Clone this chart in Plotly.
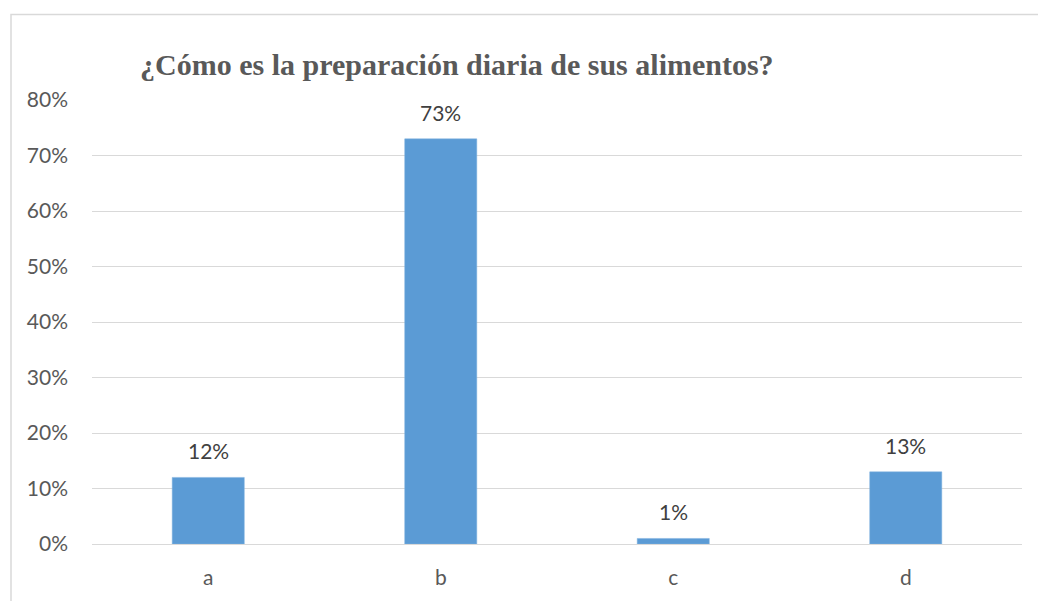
import plotly.graph_objects as go

categories = ["a", "b", "c", "d"]
values = [0.12, 0.73, 0.01, 0.13]
labels = ["12%", "73%", "1%", "13%"]
y_ticks = [0, 0.1, 0.2, 0.3, 0.4, 0.5, 0.6, 0.7, 0.8]
y_tick_text = ["0%", "10%", "20%", "30%", "40%", "50%", "60%", "70%", "80%"]

W, H = 1038, 601
ML, MR, MT, MB = 92, 16, 100, 55
pw = W - ML - MR
ph = H - MT - MB

SANS = "Lato, sans-serif"


def px(x):
    return (x - ML) / pw


def py(y):
    return (H - MB - y) / ph


fig = go.Figure(
    go.Bar(
        x=categories,
        y=values,
        width=0.31,
        marker=dict(color="#5b9bd5", line=dict(color="#7fb0de", width=0.5)),
        hoverinfo="x+y",
    )
)

# value labels above each bar
annotations = [
    dict(
        x=c,
        y=v,
        xref="x",
        yref="y",
        text=t,
        showarrow=False,
        yanchor="bottom",
        yshift=12,
        font=dict(family=SANS, size=21, color="#404040"),
    )
    for c, v, t in zip(categories, values, labels)
]

fig.update_layout(
    width=W,
    height=H,
    margin=dict(l=ML, r=MR, t=MT, b=MB),
    paper_bgcolor="white",
    plot_bgcolor="white",
    showlegend=False,
    title=dict(
        text="<b>¿Cómo es la preparación diaria de sus alimentos?</b>",
        font=dict(family="Liberation Serif, Times New Roman, serif", size=30, color="#595959"),
        x=140 / W,
        xanchor="left",
        y=1 - 64 / H,
        yanchor="middle",
    ),
    xaxis=dict(
        showgrid=False,
        showline=False,
        zeroline=False,
        ticks="",
        tickfont=dict(family=SANS, size=21, color="#595959"),
        ticklabelstandoff=19,
    ),
    yaxis=dict(
        range=[0, 0.8],
        tickvals=y_ticks,
        ticktext=y_tick_text,
        showgrid=True,
        gridcolor="#d9d9d9",
        gridwidth=1,
        zeroline=True,
        zerolinecolor="#d9d9d9",
        zerolinewidth=1,
        showline=False,
        ticks="",
        tickfont=dict(family=SANS, size=21, color="#595959"),
        ticklabelstandoff=23,
    ),
    annotations=annotations,
    shapes=[
        dict(
            type="rect",
            xref="paper",
            yref="paper",
            x0=px(11),
            x1=px(1045),
            y0=py(610),
            y1=py(14),
            line=dict(color="#d9d9d9", width=1.5),
            fillcolor="rgba(0,0,0,0)",
            layer="below",
        )
    ],
)

fig.write_html("out.html")
